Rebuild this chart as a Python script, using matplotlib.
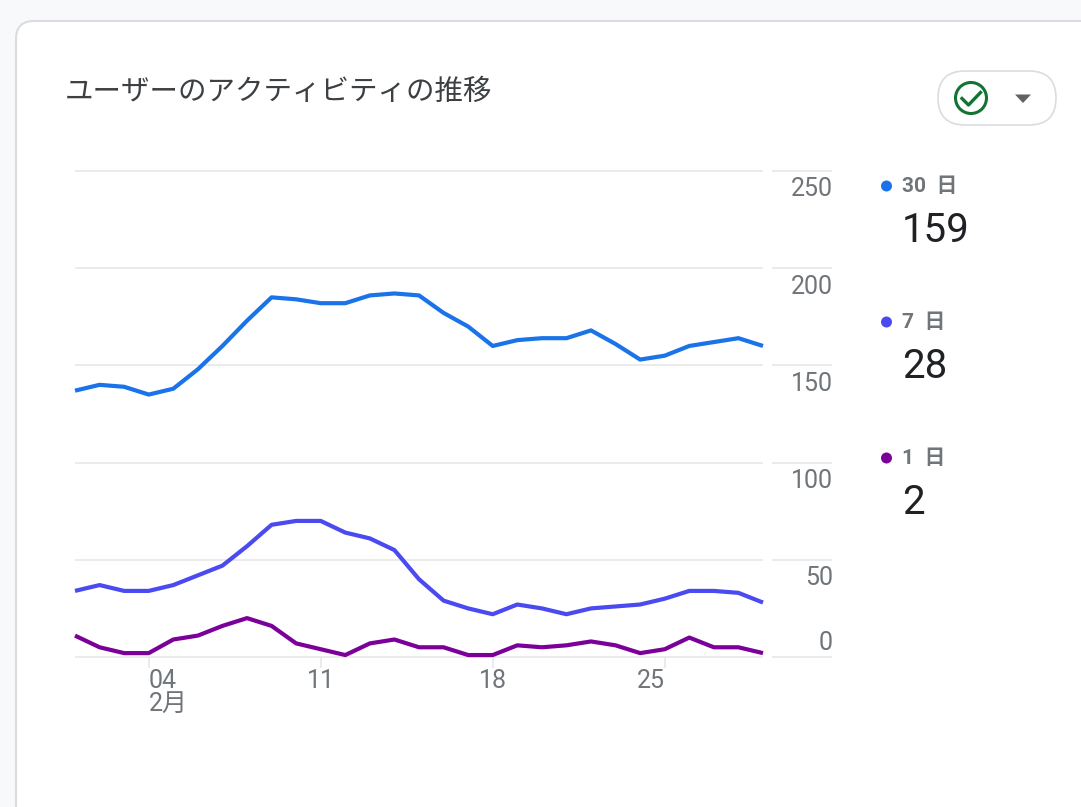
import matplotlib
matplotlib.use("Agg")
import matplotlib.pyplot as plt
from matplotlib.patches import FancyBboxPatch, Circle, Polygon
from matplotlib.lines import Line2D
from matplotlib.transforms import ScaledTranslation

W, H = 1081, 807
days = list(range(1, 30))
series_30 = [137,140,139,135,138,148,160,173,185,184,182,182,186,187,186,177,170,160,163,164,164,168,161,153,155,160,162,164,160]
series_7 = [34,37,34,34,37,42,47,57,68,70,70,64,61,55,40,29,25,22,27,25,22,25,26,27,30,34,34,33,28]
series_1 = [11,5,2,2,9,11,16,20,16,7,4,1,7,9,5,5,1,1,6,5,6,8,6,2,4,10,5,5,2]
xticks = [4, 11, 18, 25]
xticklabels = ["04\n2月", "11", "18", "25"]
xtick_aligns = ["left", "center", "center", "right"]
yticks = [0, 50, 100, 150, 200, 250]
legend_names = ["30  日", "7  日", "1  日"]
legend_values = ["159", "28", "2"]
colors = ["#1a73e8", "#4a4af0", "#7b0099"]
title = "ユーザーのアクティビティの推移"

CJK = ["Noto Sans CJK JP", "DejaVu Sans"]
NUM = ["Roboto", "Noto Sans CJK JP", "DejaVu Sans"]
GREY = "#70757a"
GRID = "#e6e7e9"

fig = plt.figure(figsize=(W/100, H/100), dpi=100, facecolor="#f8f9fa")

# overlay in pixel coordinates (y down)
bg = fig.add_axes([0, 0, 1, 1])
bg.set_xlim(0, W); bg.set_ylim(H, 0); bg.axis("off")
bg.add_patch(FancyBboxPatch((16, 21), W+60, H+60, boxstyle="round,pad=0,rounding_size=18",
                            fc="white", ec="#dadce0", lw=1.5, mutation_aspect=1))
bg.text(65, 92, title, family=CJK, fontsize=20.5, color="#3c4043", va="center", ha="left")
# filter control
bg.add_patch(FancyBboxPatch((938, 71), 118, 54, boxstyle="round,pad=0,rounding_size=27",
                            fc="white", ec="#dadce0", lw=1.2))
bg.add_patch(Circle((971, 98), 15.5, fc="none", ec="#137333", lw=2.2))
bg.add_line(Line2D([962, 968.5, 980.5], [98.5, 105, 92.5], color="#137333", lw=2.4))
bg.add_patch(Polygon([[1015, 94.5], [1031, 94.5], [1023, 103]], fc="#5f6368", ec="none"))

# chart
x0, x1, ytop, ybot = 75, 763, 171, 657
ax = fig.add_axes([x0/W, 1-ybot/H, (x1-x0)/W, (ybot-ytop)/H])
ax.patch.set_alpha(0)
ax.set_xlim(1, 29); ax.set_ylim(0, 250)
for s in ax.spines.values():
    s.set_visible(False)
ax.hlines(yticks, 1, 29, color=GRID, lw=1.2, zorder=1, clip_on=False)
ax.hlines(yticks, 29.37, 31.8, color=GRID, lw=1.2, zorder=1, clip_on=False)
for ser, c in zip([series_30, series_7, series_1], colors):
    ax.plot(days, ser, color=c, lw=3, solid_joinstyle="round", solid_capstyle="butt", zorder=3, clip_on=False)

ax.set_xticks(xticks)
ax.set_xticklabels(xticklabels, family=NUM, fontsize=18, color=GREY, linespacing=0.95)
ax.tick_params(axis="x", length=7.7, width=1.2, color=GRID, pad=1)
for lab, a in zip(ax.get_xticklabels(), xtick_aligns):
    lab.set_ha(a)
    lab.set_multialignment("left")
ax.yaxis.tick_right()
ax.set_yticks(yticks)
ax.set_yticklabels([str(v) for v in yticks], family=NUM, fontsize=18, color=GREY)
ax.tick_params(axis="y", length=0, pad=0)
for v, lab in zip(yticks, ax.get_yticklabels()):
    lab.set_ha("right")
    dy = 16 if v == 0 else -16
    lab.set_x(1.0)
    lab.set_transform(ax.get_yaxis_transform() + ScaledTranslation(70/100, dy/100, fig.dpi_scale_trans))

# legend
for i, (name, val, c) in enumerate(zip(legend_names, legend_values, colors)):
    y = 186 + i*136
    bg.add_patch(Circle((886.5, y), 5.5, fc=c, ec="none"))
    bg.text(902, y, name, family=NUM, fontsize=15, fontweight="bold", color=GREY, va="center", ha="left")
    bg.text(902, y+45, val, family=NUM, fontsize=29, color="#202124", va="center", ha="left")

fig.savefig("out.png", dpi=100, facecolor=fig.get_facecolor())
